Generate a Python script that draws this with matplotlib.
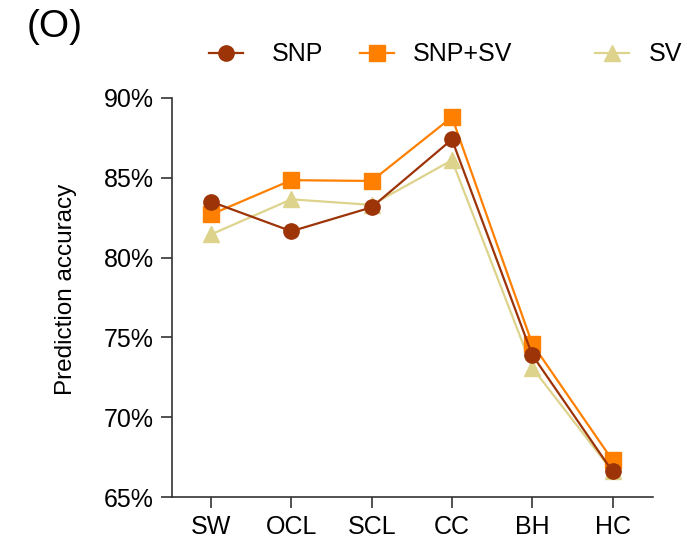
import matplotlib.pyplot as plt
from matplotlib.ticker import FuncFormatter

plt.rcParams['font.family'] = ['Liberation Sans', 'DejaVu Sans']

traits = ['SW', 'OCL', 'SCL', 'CC', 'BH', 'HC']
snp = [83.5, 81.65, 83.15, 87.4, 73.9, 66.6]
snp_sv = [82.7, 84.85, 84.8, 88.8, 74.6, 67.3]
sv = [81.45, 83.65, 83.3, 86.1, 73.1, 66.6]

fig = plt.figure(figsize=(6.87, 5.55), dpi=100)
ax = fig.add_axes([0.250, 0.1045, 0.700, 0.719])

x = range(len(traits))
l_sv, = ax.plot(x, sv, color='#ddd38c', marker='^', markersize=11, linewidth=1.6, label='SV', zorder=2)
l_both, = ax.plot(x, snp_sv, color='#ff8000', marker='s', markersize=11, linewidth=1.6, label='SNP+SV', zorder=3)
l_snp, = ax.plot(x, snp, color='#9c3408', marker='o', markersize=11, linewidth=1.6, label='SNP', zorder=4)

ax.set_xlim(-0.49, 5.5)
ax.set_ylim(65, 90)
ax.set_yticks([65, 70, 75, 80, 85, 90])
ax.yaxis.set_major_formatter(FuncFormatter(lambda v, p: f'{v:.0f}%'))
ax.set_xticks(list(x))
ax.set_xticklabels(traits)
ax.tick_params(labelsize=18, width=1.2, length=8, pad=5, color='#333333')
ax.set_ylabel('Prediction accuracy', fontsize=17.5)
ax.yaxis.set_label_coords(-0.197, 0.52)
for side in ['top', 'right']:
    ax.spines[side].set_visible(False)
for side in ['left', 'bottom']:
    ax.spines[side].set_linewidth(1.2)
    ax.spines[side].set_color('#333333')

# one legend per entry, to copy the uneven spacing of the original
for handle, label, xpos, gap in [(l_snp, 'SNP', 209, 1.15), (l_both, 'SNP+SV', 360, 0.75),
                                 (l_sv, 'SV', 595, 0.8)]:
    fig.legend([handle], [label], loc='center left', bbox_to_anchor=(xpos / 687, 0.902),
               frameon=False, fontsize=18, handlelength=1.36, handletextpad=gap,
               borderpad=0, borderaxespad=0)

fig.text(0.039, 0.951, '(O)', fontsize=28, va='center')

fig.savefig('out.png', dpi=100)
